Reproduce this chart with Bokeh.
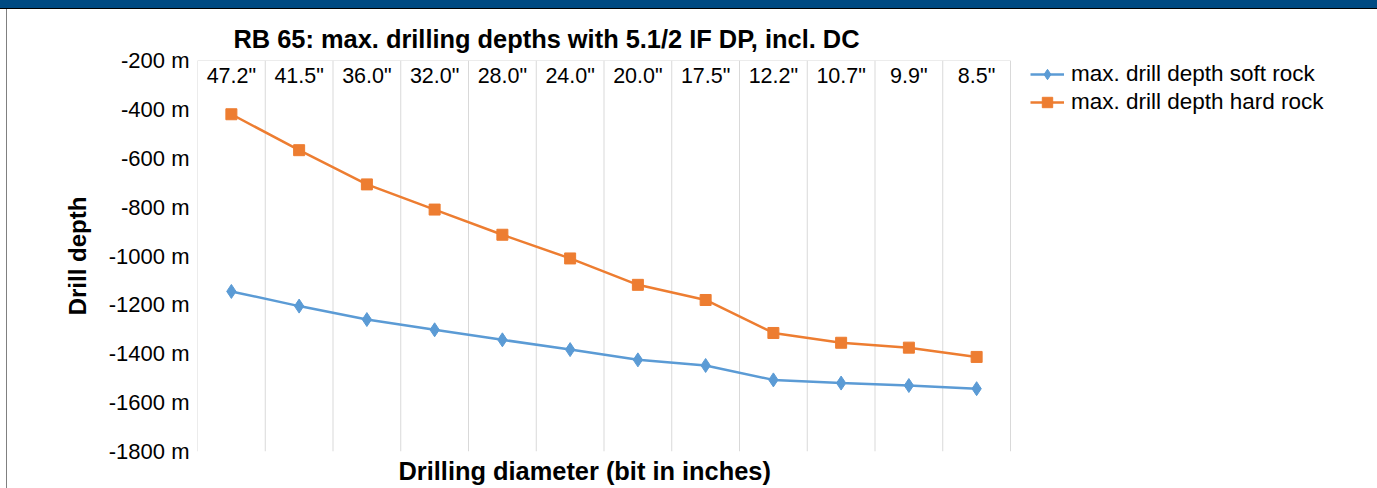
from bokeh.plotting import figure
from bokeh.models import (Range1d, PrintfTickFormatter, FixedTicker, Legend,
                          LegendItem, Div, ColumnDataSource, Title)
from bokeh.layouts import column, row
from bokeh.embed import file_html
from bokeh.resources import INLINE
from bokeh.core.properties import value

# ---------------- data ----------------
categories = ['47.2"', '41.5"', '36.0"', '32.0"', '28.0"', '24.0"',
              '20.0"', '17.5"', '12.2"', '10.7"', '9.9"', '8.5"']
soft_rock = [-1145, -1205, -1260, -1302, -1343, -1383,
             -1425, -1448, -1507, -1520, -1530, -1543]
hard_rock = [-420, -567, -707, -810, -913, -1010,
             -1118, -1180, -1315, -1355, -1375, -1413]
y_ticks = [-200, -400, -600, -800, -1000, -1200, -1400, -1600, -1800]

title_text = "RB 65: max. drilling depths with 5.1/2 IF DP, incl. DC"
x_title = "Drilling diameter (bit in inches)"
y_title = "Drill depth"
soft_label = "max. drill depth soft rock"
hard_label = "max. drill depth hard rock"

# ---------------- layout constants (page px) ----------------
W, H = 1377, 488
BAR_H, BAR_LINE = 8, 1
LEFT_WHITE, LEFT_LINE = 6, 1
FIG_W = W - LEFT_WHITE - LEFT_LINE
FIG_H = H - BAR_H - BAR_LINE
OX, OY = LEFT_WHITE + LEFT_LINE, BAR_H + BAR_LINE  # figure origin on page
FRAME_L, FRAME_T, FRAME_B = 197, 60, 452           # page coords
CAT_R = 1010                                        # right end of category area

FONT = "Liberation Sans"
BLUE = "#5b9bd5"
ORANGE = "#ed7d31"
GRID = "#d9d9d9"

n = len(categories)
x_pos = [i + 0.5 for i in range(n)]
x_end = n * (W - FRAME_L) / (CAT_R - FRAME_L)

src = ColumnDataSource(dict(x=x_pos, cat=categories, soft=soft_rock, hard=hard_rock,
                            top=[max(y_ticks)] * n))

p = figure(width=FIG_W, height=FIG_H, output_backend="svg", toolbar_location=None,
           x_range=Range1d(0, x_end), y_range=Range1d(min(y_ticks), max(y_ticks)),
           x_axis_location=None, tools="",
           min_border_left=FRAME_L - OX, min_border_right=0,
           min_border_top=FRAME_T - OY, min_border_bottom=FIG_H - (FRAME_B - OY))
p.outline_line_color = None
p.background_fill_color = "white"
p.border_fill_color = "white"
p.xgrid.visible = False
p.ygrid.visible = False

# main title
p.title = Title(text=title_text, align="left", offset=233 - FRAME_L, standoff=15,
                text_font=FONT, text_font_style="bold", text_font_size="25.4px",
                text_color="black")

# x axis title below the plot
p.add_layout(Title(text=x_title, align="left", offset=398 - FRAME_L, standoff=7,
                   text_font=FONT, text_font_style="bold", text_font_size="25.4px",
                   text_color="black"), "below")

# category grid (vertical boundaries) and top line
bounds = list(range(n + 1))
p.segment(x0=bounds, x1=bounds, y0=[min(y_ticks)] * len(bounds), y1=[max(y_ticks)] * len(bounds),
          line_color=GRID, line_width=1)
p.segment(x0=[0], x1=[n], y0=[max(y_ticks)], y1=[max(y_ticks)], line_color=GRID, line_width=1)

# category labels inside the top of the plot
p.text(x="x", y="top", text="cat", source=src, y_offset=15,
       text_align="center", text_baseline="middle",
       text_font=value(FONT), text_font_size="21.5px", text_color="black")

# series
l1 = p.line(x="x", y="soft", source=src, line_color=BLUE, line_width=2.5)
m1 = p.scatter(x="x", y="soft", source=src, marker="diamond", size=14,
               fill_color=BLUE, line_color=BLUE)
l2 = p.line(x="x", y="hard", source=src, line_color=ORANGE, line_width=2.5)
m2 = p.scatter(x="x", y="hard", source=src, marker="square", size=11,
               fill_color=ORANGE, line_color=ORANGE)

# y axis
ya = p.yaxis[0]
ya.ticker = FixedTicker(ticks=y_ticks)
ya.formatter = PrintfTickFormatter(format="%d m")
ya.axis_line_color = None
ya.major_tick_line_color = None
ya.minor_tick_line_color = None
ya.major_label_standoff = 2
ya.major_label_text_font = FONT
ya.major_label_text_font_size = "22px"
ya.major_label_text_color = "black"
ya.axis_label = y_title
ya.axis_label_text_font = FONT
ya.axis_label_text_font_style = "bold"
ya.axis_label_text_font_size = "24px"
ya.axis_label_text_color = "black"
ya.axis_label_standoff = 15

# legend
legend = Legend(items=[LegendItem(label=soft_label, renderers=[l1, m1]),
                       LegendItem(label=hard_label, renderers=[l2, m2])],
                location=(1030 - FRAME_L, (FRAME_B - FRAME_T) - 56),
                glyph_width=34, glyph_height=26, label_height=26, spacing=2,
                label_standoff=7, padding=0, margin=0,
                border_line_color=None, background_fill_alpha=0,
                label_text_font=FONT, label_text_font_size="22.5px", label_text_color="black")
p.add_layout(legend, "center")

# page frame: dark blue bar on top, thin line on the left
bar = Div(width=W, height=BAR_H, margin=0, styles={"background-color": "#004a82"})
bar_line = Div(width=W, height=BAR_LINE, margin=0, styles={"background-color": "#000000"})
left_white = Div(width=LEFT_WHITE, height=FIG_H, margin=0, styles={"background-color": "white"})
left_line = Div(width=LEFT_LINE, height=FIG_H, margin=0, styles={"background-color": "#808080"})

layout = column(bar, bar_line, row(left_white, left_line, p, spacing=0), spacing=0,
                styles={"position": "absolute", "top": "0px", "left": "0px"})

open("out.html", "w").write(file_html(layout, INLINE))
